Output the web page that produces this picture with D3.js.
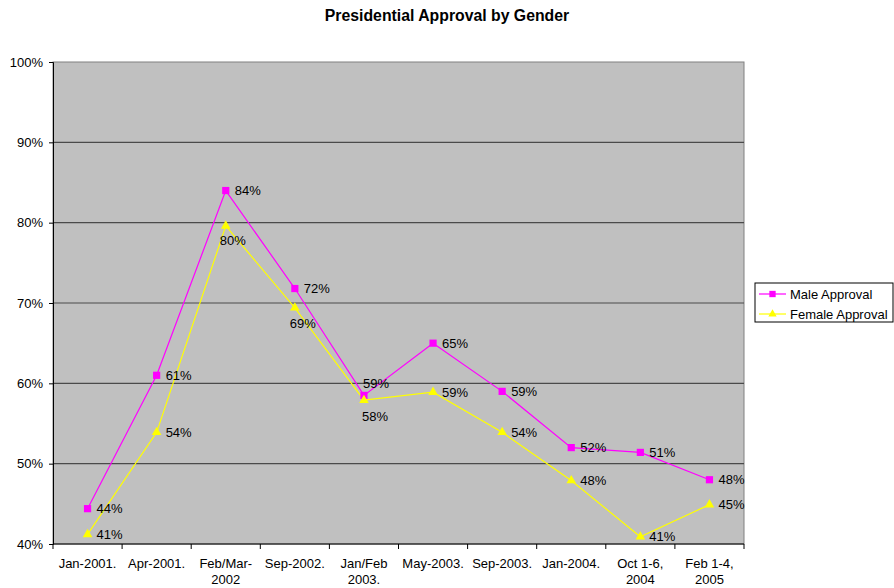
<!DOCTYPE html>
<html>
<head>
<meta charset="utf-8">
<script src="https://cdn.jsdelivr.net/npm/d3@7"></script>
<style>
  body { margin: 0; background: #fff; }
  text { font-family: "Liberation Sans", Arial, sans-serif; fill: #000; }
</style>
</head>
<body>
<div id="chart"></div>
<script>
// chart data
const categories = ["Jan-2001.", "Apr-2001.", "Feb/Mar-2002", "Sep-2002.", "Jan/Feb 2003.",
  "May-2003.", "Sep-2003.", "Jan-2004.", "Oct 1-6, 2004", "Feb 1-4, 2005"];
const maleApproval = [44.4, 61, 84, 71.8, 58.5, 65, 59, 52, 51.4, 48];
const femaleApproval = [41.2, 53.9, 79.6, 69.4, 57.9, 58.9, 53.9, 47.9, 40.9, 44.9];
const yTicks = [40, 50, 60, 70, 80, 90, 100];
const seriesNames = ["Male Approval", "Female Approval"];

// x labels are wrapped on two lines the way the original does it
const xLabelLines = {
  "Feb/Mar-2002": ["Feb/Mar-", "2002"],
  "Jan/Feb 2003.": ["Jan/Feb", "2003."],
  "Oct 1-6, 2004": ["Oct 1-6,", "2004"],
  "Feb 1-4, 2005": ["Feb 1-4,", "2005"]
};

const W = 894, H = 588;
const margin = { top: 62, right: 150, bottom: 44, left: 53 };
const width = 744 - margin.left, height = 544 - margin.top;

const svg = d3.select("#chart").append("svg")
  .attr("width", W).attr("height", H);

svg.append("text")
  .attr("x", 447).attr("y", 20.5)
  .attr("text-anchor", "middle")
  .style("font-size", "15.8px").style("font-weight", "bold")
  .text("Presidential Approval by Gender");

const g = svg.append("g").attr("transform", `translate(${margin.left},${margin.top})`);

const x = d3.scaleBand().domain(categories).range([0, width]).padding(0);
const y = d3.scaleLinear().domain([40, 100]).range([height, 0]);
const cx = d => x(d) + x.bandwidth() / 2;

// plot background
g.append("rect")
  .attr("width", width).attr("height", height)
  .attr("fill", "#c0c0c0").attr("stroke", "#808080").attr("stroke-width", 1);

// gridlines
g.selectAll("line.grid")
  .data(yTicks.filter(t => t > 40 && t < 100))
  .join("line")
  .attr("class", "grid")
  .attr("x1", 0).attr("x2", width)
  .attr("y1", d => y(d)).attr("y2", d => y(d))
  .attr("stroke", "#4a4a4a").attr("stroke-width", 1.2);

// y axis
const yAxis = g.append("g")
  .call(d3.axisLeft(y).tickValues(yTicks).tickSize(4).tickPadding(6).tickFormat(d => d + "%"));
yAxis.select(".domain").attr("stroke", "#000");
yAxis.selectAll(".tick line").attr("stroke", "#000");
yAxis.selectAll("text").style("font-size", "13px");

// x axis, ticks on the band edges
const xAxis = g.append("g").attr("transform", `translate(0,${height})`);
xAxis.append("line").attr("x1", 0).attr("x2", width).attr("stroke", "#000");
xAxis.selectAll("line.tk")
  .data(categories.concat(["end"]))
  .join("line")
  .attr("class", "tk")
  .attr("x1", (d, i) => i < categories.length ? x(d) : width)
  .attr("x2", (d, i) => i < categories.length ? x(d) : width)
  .attr("y1", 0).attr("y2", 5)
  .attr("stroke", "#000");
xAxis.selectAll("text.xl")
  .data(categories)
  .join("text")
  .attr("class", "xl")
  .attr("text-anchor", "middle")
  .style("font-size", "13px")
  .each(function (d) {
    const lines = xLabelLines[d] || [d];
    d3.select(this).selectAll("tspan")
      .data(lines)
      .join("tspan")
      .attr("x", cx(d))
      .attr("y", (l, i) => 24 + i * 16)
      .text(l => l);
  });

// lines & markers
const line = d3.line().x((d, i) => cx(categories[i])).y(d => y(d));
const series = [
  { name: seriesNames[0], values: maleApproval, color: "#ff00ff", shape: d3.symbolSquare },
  { name: seriesNames[1], values: femaleApproval, color: "#ffff00", shape: d3.symbolTriangle }
];

series.forEach(s => {
  g.append("path")
    .datum(s.values)
    .attr("d", line)
    .attr("fill", "none")
    .attr("stroke", s.color)
    .attr("stroke-width", 1.2);
});

series.forEach(s => {
  g.selectAll(null)
    .data(s.values)
    .join("path")
    .attr("transform", (d, i) => `translate(${cx(categories[i])},${y(d)})`)
    .attr("d", d3.symbol().type(s.shape).size(s.shape === d3.symbolSquare ? 52 : 40))
    .attr("fill", s.color);
});

// data labels: right of the point unless Excel moved them
const labelShift = {
  "1-2": [-6, 14], "1-3": [-5, 15], "0-4": [-1, -12], "1-4": [-2, 16]
};
series.forEach((s, si) => {
  g.selectAll(null)
    .data(s.values)
    .join("text")
    .attr("x", (d, i) => cx(categories[i]) + (labelShift[si + "-" + i] || [9, 0])[0])
    .attr("y", (d, i) => y(d) + (labelShift[si + "-" + i] || [9, 0])[1])
    .attr("dy", "0.36em")
    .style("font-size", "13px")
    .text(d => Math.round(d) + "%");
});

// legend
const lg = svg.append("g").attr("transform", "translate(755,283)");
lg.append("rect")
  .attr("width", 138).attr("height", 39)
  .attr("fill", "#fff").attr("stroke", "#000").attr("stroke-width", 1);
series.forEach((s, i) => {
  const yy = 11 + i * 20;
  lg.append("line")
    .attr("x1", 4).attr("x2", 31).attr("y1", yy).attr("y2", yy)
    .attr("stroke", s.color).attr("stroke-width", 1.2);
  lg.append("path")
    .attr("transform", `translate(17.5,${yy})`)
    .attr("d", d3.symbol().type(s.shape).size(s.shape === d3.symbolSquare ? 40 : 30))
    .attr("fill", s.color);
  lg.append("text")
    .attr("x", 35).attr("y", yy).attr("dy", "0.36em")
    .style("font-size", "13px")
    .text(s.name);
});
</script>
</body>
</html>
